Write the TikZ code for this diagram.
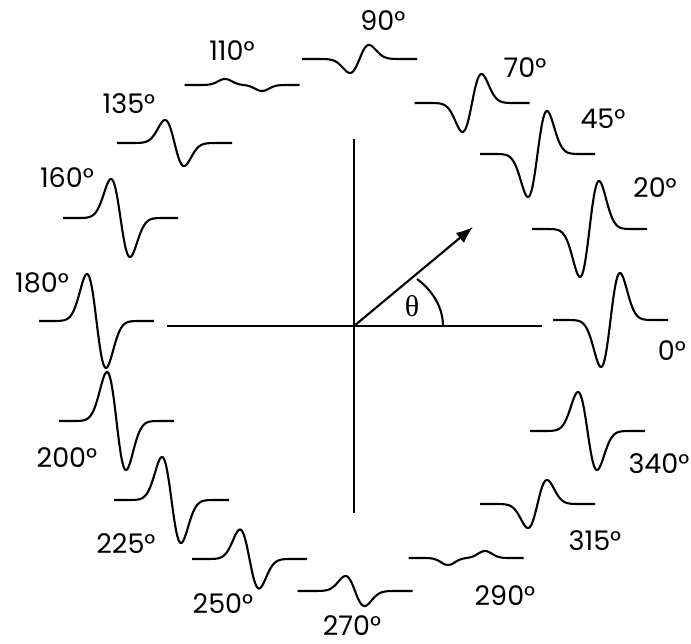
\documentclass[tikz,border=0pt]{standalone}
\usepackage{fontspec}
\setmainfont{Poppins}
\newfontfamily\thetafont{Liberation Serif}
\usetikzlibrary{arrows.meta}
\newcommand\wavetrace[3]{%
  \draw[trace] plot[domain=-57.5:57.5, samples=181, smooth]
    ({#1+\x},{#2-(#3)*(\x/9.5)*exp(0.5-\x*\x/180.5)});}
\begin{document}
\begin{tikzpicture}[x=1pt,y=-1pt,
  trace/.style={line width=2.1pt, line join=round, line cap=butt},
  axis/.style={line width=2.1pt},
  lbl/.style={font=\fontsize{27}{27}\selectfont, inner sep=0pt, anchor=base}]
\useasboundingbox (0,0) rectangle (691,643);
% axes
\coordinate (O) at (354,326);
\coordinate (xl) at (167,326);
\coordinate (xr) at (542,326);
\coordinate (yt) at (354,139);
\coordinate (yb) at (354,513);
\coordinate (tip) at (473,227);
\draw[axis] (xl) -- (xr);
\draw[axis] (yt) -- (yb);
\draw[axis, -{Latex[length=17pt,width=13pt]}] (O) -- (tip);
\draw[axis] (417,279) .. controls (433.7,291.4) and (443,308.5) .. (443,326);
\node[inner sep=0pt, anchor=base] (theta) at (412,316) {\fontsize{30}{30}\thetafont θ};
% traces
\wavetrace{610.5}{320}{47}
\wavetrace{589.5}{229}{48}
\wavetrace{537.5}{154}{43}
\wavetrace{472}{103}{29}
\wavetrace{359.5}{59}{14}
\draw[trace] plot[domain=-57.5:57.5, samples=181, smooth]
  ({242+\x},{85-6*exp(-(\x+17)*(\x+17)/98)+6*exp(-(\x-20)*(\x-20)/98)});
\wavetrace{174.5}{143}{-23}
\wavetrace{120.5}{218}{-39}
\wavetrace{96.5}{321}{-47}
\wavetrace{116.5}{421}{-49}
\wavetrace{171.5}{500}{-43}
\wavetrace{249.5}{559}{-29.5}
\wavetrace{355}{591}{-15}
\draw[trace] plot[domain=-57.5:57.5, samples=181, smooth]
  ({466+\x},{558+7*exp(-(\x+18)*(\x+18)/98)-7*exp(-(\x-19)*(\x-19)/98)});
\wavetrace{537.5}{504}{24}
\wavetrace{587.5}{431}{-39}
% labels
\node[lbl] (l0)   at (672,360) {0°};
\node[lbl] (l20)  at (655,197) {20°};
\node[lbl] (l45)  at (603,128) {45°};
\node[lbl] (l70)  at (525,77)  {70°};
\node[lbl] (l90)  at (383,30)  {90°};
\node[lbl] (l110) at (232,60)  {110°};
\node[lbl] (l135) at (129,113) {135°};
\node[lbl] (l160) at (67,187)  {160°};
\node[lbl] (l180) at (42,292)  {180°};
\node[lbl] (l200) at (67,467)  {200°};
\node[lbl] (l225) at (126,553) {225°};
\node[lbl] (l250) at (223,613) {250°};
\node[lbl] (l270) at (352,635) {270°};
\node[lbl] (l290) at (505,605) {290°};
\node[lbl] (l315) at (595,550) {315°};
\node[lbl] (l340) at (659,473) {340°};
\end{tikzpicture}
\end{document}
